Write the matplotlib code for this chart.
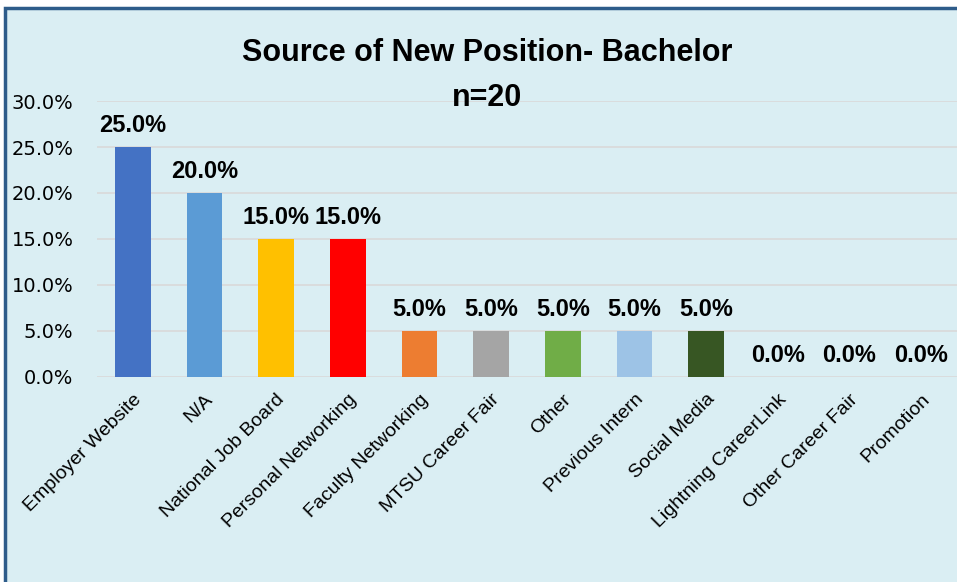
import matplotlib.pyplot as plt
from matplotlib.patches import Rectangle
from matplotlib.ticker import FuncFormatter

categories = ['Employer Website', 'N/A', 'National Job Board', 'Personal Networking',
              'Faculty Networking', 'MTSU Career Fair', 'Other', 'Previous Intern',
              'Social Media', 'Lightning CareerLink', 'Other Career Fair', 'Promotion']
values = [0.25, 0.20, 0.15, 0.15, 0.05, 0.05, 0.05, 0.05, 0.05, 0.0, 0.0, 0.0]
colors = ['#4472C4', '#5B9BD5', '#FFC000', '#FF0000', '#ED7D31', '#A5A5A5',
          '#70AD47', '#9DC3E6', '#375623', '#4472C4', '#4472C4', '#4472C4']

bg = '#DAEEF3'
narrow = ['Liberation Sans Narrow', 'Liberation Sans', 'DejaVu Sans']

fig = plt.figure(figsize=(9.57, 5.82), dpi=100)
fig.patch.set_facecolor('white')
# frame of the chart area
fig.patches.append(Rectangle((5 / 957, -0.01), 1.05, 1 - 8 / 582 + 0.01,
                             transform=fig.transFigure, facecolor=bg,
                             edgecolor='#2E5C8A', linewidth=2.5, zorder=-5))

ax = fig.add_axes([97 / 957, (582 - 377) / 582, 860 / 957, 276 / 582])
ax.set_facecolor('none')
x = range(len(categories))
bars = ax.bar(x, values, width=0.5, color=colors, zorder=3)
ax.set_xlim(-0.5, len(categories) - 0.5)
ax.set_ylim(0, 0.30)
ax.set_yticks([0, 0.05, 0.10, 0.15, 0.20, 0.25, 0.30])
ax.yaxis.set_major_formatter(FuncFormatter(lambda v, p: f'{v * 100:.1f}%'))
ax.grid(axis='y', color='#D9D9D9', linewidth=1.2, zorder=0)
for s in ax.spines.values():
    s.set_visible(False)
ax.tick_params(length=0)
ax.tick_params(axis='y', labelsize=14, pad=17)
ax.set_xticks(list(x))
ax.set_xticklabels(categories, rotation=45, ha='right', rotation_mode='anchor',
                   fontsize=14, family=['Liberation Sans', 'DejaVu Sans'])
ax.tick_params(axis='x', pad=10)

for b, v in zip(bars, values):
    ax.text(b.get_x() + b.get_width() / 2, v + 0.011, f'{v * 100:.1f}%',
            ha='center', va='bottom', fontsize=17, fontweight='bold',
            family=narrow, zorder=4)

fig.text(487 / 957, 1 - 53 / 582, 'Source of New Position- Bachelor', ha='center',
         va='center', fontsize=22, fontweight='bold', family=narrow)
fig.text(487 / 957, 1 - 98 / 582, 'n=20', ha='center', va='center',
         fontsize=22, fontweight='bold', family=narrow)

fig.savefig('out.png', dpi=100)
